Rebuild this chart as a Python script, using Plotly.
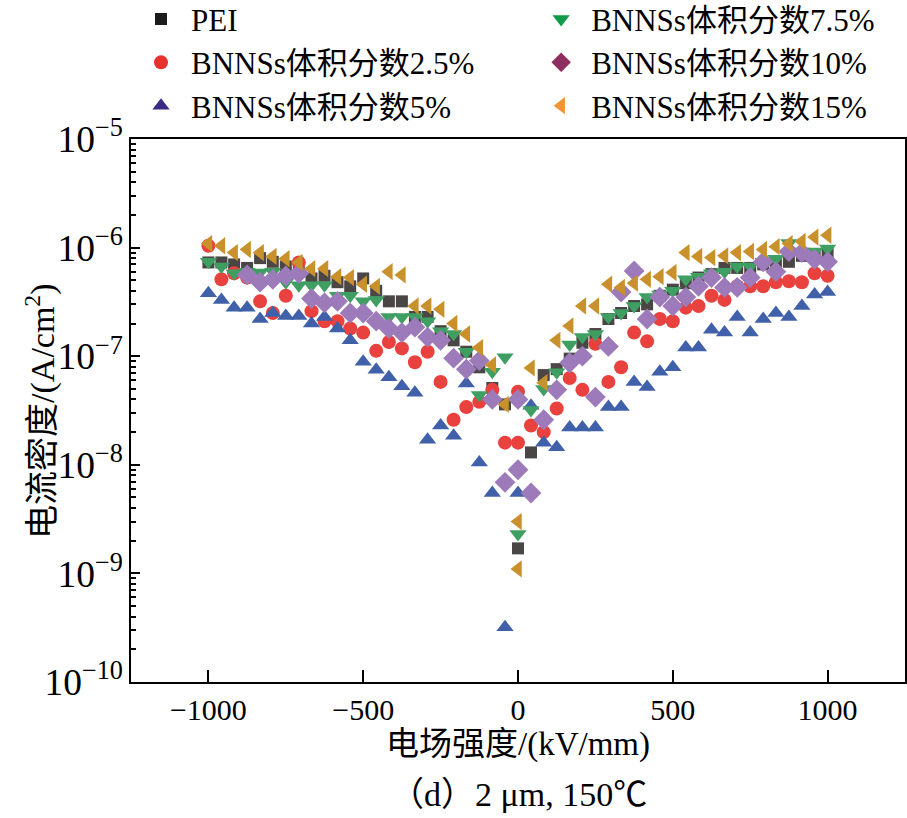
import plotly.graph_objects as go

# Electric field grid (kV/mm)
X_GRID = [-1000, -958, -917, -875, -833, -792, -750, -708, -667, -625, -583, -542,
          -500, -458, -417, -375, -333, -292, -250, -208, -167, -125, -83, -42, 0,
          42, 83, 125, 167, 208, 250, 292, 333, 375, 417, 458, 500, 542, 583, 625,
          667, 708, 750, 792, 833, 875, 917, 958, 1000]

PEI = [7.3e-7, 7.3e-7, 7.0e-7, 6.5e-7, 8.0e-7, 7.4e-7, 6.7e-7, 6.0e-7, 5.2e-7, 5.5e-7,
       4.8e-7, 4.4e-7, 5.2e-7, 4.0e-7, 3.2e-7, 3.2e-7, 2.3e-7, 2.3e-7, 1.7e-7, 1.4e-7,
       1.1e-7, 7.9e-8, 5.1e-8, 3.6e-8, 1.7e-9,
       1.3e-8, 6.7e-8, 7.6e-8, 9.5e-8, 1.33e-7, 1.6e-7, 2.2e-7, 2.5e-7, 2.9e-7, 3.0e-7,
       3.6e-7, 4.1e-7, 4.7e-7, 5.3e-7, 5.7e-7, 6.5e-7, 6.5e-7, 6.5e-7, 7.0e-7, 7.3e-7,
       7.4e-7, 8.4e-7, 8.3e-7, 9.0e-7]

BN_2_5 = [1.04e-6, 5.1e-7, 5.8e-7, 5.3e-7, 3.2e-7, 2.5e-7, 3.6e-7, 7.3e-7, 2.6e-7, 2.1e-7,
          2.1e-7, 1.8e-7, 1.65e-7, 1.12e-7, 1.35e-7, 1.18e-7, 8.8e-8, 1.1e-7, 5.8e-8, 2.6e-8,
          3.4e-8, 3.8e-8, 4.9e-8, 1.6e-8, 1.6e-8,
          2.3e-8, 2.0e-8, 3.3e-8, 6.3e-8, 4.9e-8, 1.3e-7, 5.8e-8, 7.9e-8, 1.65e-7, 1.37e-7,
          2.2e-7, 2.1e-7, 2.8e-7, 2.9e-7, 3.6e-7, 3.3e-7, 4.4e-7, 4.4e-7, 4.4e-7, 4.8e-7,
          4.9e-7, 4.8e-7, 5.8e-7, 5.5e-7]

BN_5 = [3.8e-7, 3.3e-7, 2.8e-7, 2.8e-7, 2.2e-7, 2.5e-7, 2.35e-7, 2.35e-7, 2.0e-7, 2.3e-7,
        1.8e-7, 1.4e-7, 8.9e-8, 7.5e-8, 6.4e-8, 5.3e-8, 4.6e-8, 1.7e-8, 2.3e-8, 1.85e-8,
        5.6e-8, 1.05e-8, 5.5e-9, 3.2e-10, 5.5e-9,
        3.5e-8, 1.6e-8, 1.45e-8, 2.2e-8, 2.2e-8, 2.2e-8, 3.4e-8, 3.4e-8, 5.8e-8, 5.2e-8,
        7.2e-8, 7.9e-8, 1.2e-7, 1.2e-7, 1.75e-7, 1.65e-7, 2.3e-7, 1.65e-7, 2.2e-7, 2.5e-7,
        2.3e-7, 2.9e-7, 3.7e-7, 3.9e-7]

BN_7_5 = [7.4e-7, 6.7e-7, 5.8e-7, 6.0e-7, 5.9e-7, 6.0e-7, 4.8e-7, 4.5e-7, 4.5e-7, 4.5e-7,
          3.6e-7, 3.6e-7, 3.2e-7, 3.3e-7, 2.3e-7, 2.3e-7, 2.3e-7, 2.1e-7, 1.7e-7, 1.6e-7,
          1.1e-7, 4.4e-8, 7.2e-8, 9.8e-8, 2.3e-9,
          3.2e-8, 5.0e-8, 7.1e-8, 1.28e-7, 1.5e-7, 1.6e-7, 2.3e-7, 2.5e-7, 2.9e-7, 3.5e-7,
          3.7e-7, 4.0e-7, 5.1e-7, 5.4e-7, 5.8e-7, 6.0e-7, 6.7e-7, 6.7e-7, 7.4e-7, 7.9e-7,
          1.1e-6, 9.2e-7, 9.2e-7, 9.8e-7]

BN_10 = [None, None, None, 5.6e-7, 4.8e-7, 5.1e-7, 5.5e-7, 5.8e-7, 3.4e-7, 3.1e-7,
         3.2e-7, 2.5e-7, 2.5e-7, 2.1e-7, 1.8e-7, 1.65e-7, 1.85e-7, 1.5e-7, 1.4e-7, 9.6e-8,
         7.6e-8, 9.1e-8, 4.0e-8, 6.9e-9, 9.0e-9,
         5.5e-9, 2.6e-8, 4.9e-8, 8.7e-8, 1.0e-7, 4.2e-8, 1.23e-7, 3.9e-7, 6.1e-7, 2.2e-7,
         3.5e-7, 2.9e-7, 3.5e-7, 4.4e-7, 5.3e-7, 4.3e-7, 4.3e-7, 5.3e-7, 7.4e-7, 6.0e-7,
         9.2e-7, 9.0e-7, 7.8e-7, 7.4e-7]

BN_15 = [1.09e-6, 1.04e-6, 9.0e-7, 9.6e-7, 9.0e-7, 8.3e-7, 7.9e-7, 7.3e-7, 6.4e-7, 6.4e-7,
         5.4e-7, 5.3e-7, 4.6e-7, 4.4e-7, 6.0e-7, 5.6e-7, 2.9e-7, 2.9e-7, 2.7e-7, 2.0e-7,
         1.6e-7, 1.2e-7, 8.3e-8, 3.6e-8, 3.0e-9,
         7.8e-8, 5.7e-8, 1.4e-7, 1.9e-7, 2.9e-7, 2.9e-7, 4.6e-7, 4.3e-7, 4.7e-7, 5.1e-7,
         5.4e-7, 5.9e-7, 9.0e-7, 8.3e-7, 8.1e-7, 8.4e-7, 9.0e-7, 9.2e-7, 9.6e-7, 1.02e-6,
         1.09e-6, 1.14e-6, 1.25e-6, 1.3e-6]

# extra points measured at E = 0
EXTRA_X = [0]
EXTRA_2_5 = [4.7e-8]
EXTRA_10 = [4.0e-8]
EXTRA_15 = [1.1e-9]

NAMES = ["PEI", "BNNSs体积分数2.5%", "BNNSs体积分数5%",
         "BNNSs体积分数7.5%", "BNNSs体积分数10%", "BNNSs体积分数15%"]

FONT = "Liberation Serif, Times New Roman, Noto Sans CJK SC, serif"

series = [
    (NAMES[0], PEI, [], [], "square", "#4b4646", "#1c1c1c", 12, "legend"),
    (NAMES[1], BN_2_5, EXTRA_X, EXTRA_2_5, "circle", "#e8413e", "#e8302f", 14, "legend"),
    (NAMES[2], BN_5, [], [], "triangle-up", "#4160aa", "#3b2a84", 15, "legend"),
    (NAMES[3], BN_7_5, [], [], "triangle-down", "#3f9e62", "#109a4a", 15, "legend2"),
    (NAMES[4], BN_10, EXTRA_X, EXTRA_10, "diamond", "#9d7ab9", "#8e2e5e", 16, "legend2"),
    (NAMES[5], BN_15, EXTRA_X, EXTRA_15, "triangle-left", "#c9912c", "#f29530", 15, "legend2"),
]

fig = go.Figure()
for name, ys, ex, ey, sym, col, lcol, size, leg in series:
    fig.add_trace(go.Scatter(
        x=X_GRID + ex, y=ys + ey, mode="markers", name=name, showlegend=False,
        marker=dict(symbol=sym, color=col, size=size, line=dict(width=0)),
    ))
for name, ys, ex, ey, sym, col, lcol, size, leg in series:
    fig.add_trace(go.Scatter(
        x=[None], y=[None], mode="markers", name=name, legend=leg,
        marker=dict(symbol=sym, color=lcol, size=min(size, 15), line=dict(width=0)),
    ))

axis_common = dict(showline=True, linecolor="black", linewidth=2, mirror=True,
                   showgrid=False, zeroline=False, ticks="inside", tickcolor="black",
                   tickfont=dict(family=FONT, size=30, color="black"))

fig.update_xaxes(range=[-1250, 1250], tickvals=[-1000, -500, 0, 500, 1000],
                 ticklen=12, tickwidth=1.5, **axis_common)
fig.update_yaxes(type="log", range=[-10, -5], dtick=1, exponentformat="power",
                 ticklen=9, tickwidth=1.5,
                 minor=dict(ticks="inside", ticklen=5, tickcolor="black", dtick="D1"),
                 **axis_common)

legend_common = dict(font=dict(family=FONT, size=31, color="black"),
                     bgcolor="rgba(0,0,0,0)", yanchor="top", xanchor="left",
                     itemwidth=50, orientation="v", tracegroupgap=0)

fig.update_layout(
    width=907, height=818,
    margin=dict(l=131, r=2, t=139, b=136, autoexpand=False),
    paper_bgcolor="white", plot_bgcolor="white",
    font=dict(family=FONT, color="black"),
    legend=dict(x=0.0, y=1.270, **legend_common),
    legend2=dict(x=0.517, y=1.270, **legend_common),
    annotations=[
        dict(text="电流密度/(A/cm<sup>2</sup>)", xref="paper", yref="paper",
             x=-0.117, y=0.5, textangle=-90, showarrow=False,
             xanchor="center", yanchor="middle",
             font=dict(family=FONT, size=34, color="black")),
        dict(text="电场强度/(kV/mm)", xref="paper", yref="paper",
             x=0.5, y=-0.116, showarrow=False, xanchor="center", yanchor="middle",
             font=dict(family=FONT, size=33, color="black")),
        dict(text="（d）2 μm, 150℃", xref="paper", yref="paper",
             x=0.5, y=-0.208, showarrow=False, xanchor="center", yanchor="middle",
             font=dict(family=FONT, size=34, color="black")),
    ],
)

fig.write_html("out.html", config={"displayModeBar": False},
               post_script="document.body.style.margin='0';")
